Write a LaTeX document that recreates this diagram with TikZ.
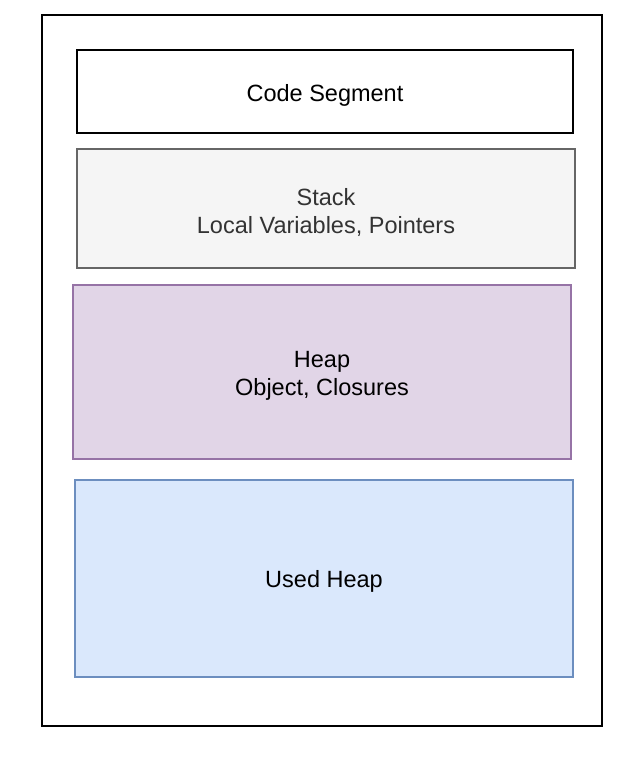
\documentclass[tikz,border=0pt]{standalone}
\usepackage{fontspec}
\setmainfont{Liberation Sans}
\definecolor{stackfill}{HTML}{F5F5F5}
\definecolor{stackline}{HTML}{666666}
\definecolor{stacktext}{HTML}{333333}
\definecolor{heapfill}{HTML}{E1D5E7}
\definecolor{heapline}{HTML}{9673A6}
\definecolor{usedfill}{HTML}{DAE8FC}
\definecolor{usedline}{HTML}{6C8EBF}
\begin{document}
\begin{tikzpicture}[x=1pt,y=-1pt,
  seg/.style={draw,line width=2pt,inner sep=0pt},
  segtext/.style={inner sep=0pt,yshift=-3.5pt,
    font=\fontsize{23.5}{28}\selectfont,align=center}]
\useasboundingbox (0,0) rectangle (638,760);
\node[draw=black,line width=2pt,minimum width=560pt,minimum height=711pt,inner sep=0pt] (outer) at (322,370.5) {};
\node[seg,draw=black,fill=white,minimum width=496pt,minimum height=82pt,
  label={[segtext,name=codetext]center:Code Segment}] (code) at (325,91.5) {};
\node[seg,draw=stackline,fill=stackfill,minimum width=498pt,minimum height=119pt,
  label={[segtext,text=stacktext,name=stacktext]center:{Stack\\Local Variables, Pointers}}] (stack) at (326,208.5) {};
\node[seg,draw=heapline,fill=heapfill,minimum width=498pt,minimum height=174pt,
  label={[segtext,name=heaptext]center:{Heap\\Object, Closures}}] (heap) at (322,372) {};
\node[seg,draw=usedline,fill=usedfill,minimum width=498pt,minimum height=197pt,
  label={[segtext,name=usedtext]center:Used Heap}] (used) at (324,578) {};
\end{tikzpicture}
\end{document}
